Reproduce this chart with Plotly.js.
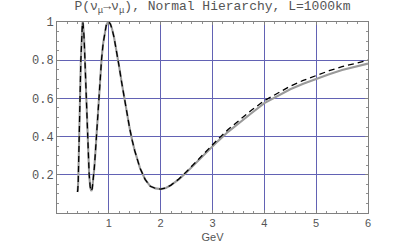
<!DOCTYPE html>
<html>
<head>
<meta charset="utf-8">
<script src="https://cdn.plot.ly/plotly-3.0.1.min.js"></script>
<style>html,body{margin:0;padding:0;background:#fff}#chart{width:400px;height:247px}</style>
</head>
<body>
<div id="chart"></div>
<script>
// Energy (GeV)
const energy = [0.395,0.40,0.41,0.42,0.43,0.44,0.45,0.46,0.47,0.48,0.49,0.50,0.51,0.52,0.53,0.54,0.55,0.56,
  0.58,0.60,0.62,0.64,0.66,0.68,0.70,0.72,0.74,0.76,0.78,0.80,
  0.83,0.86,0.89,0.92,0.95,0.98,1.00,1.03,1.06,
  1.10,1.15,1.20,1.25,1.30,1.35,1.40,1.45,1.50,
  1.60,1.70,1.80,1.90,2.00,2.10,2.20,2.35,2.50,
  2.70,2.90,3.10,3.30,3.50,3.75,4.00,4.25,4.50,4.75,5.00,5.25,5.50,5.75,6.00];
// Gray solid curve
const probSolid = [0.11,0.118,0.167,0.265,0.395,0.537,0.676,0.797,0.893,0.959,0.994,0.998,0.976,0.931,0.868,0.793,0.710,0.622,
  0.454,0.309,0.203,0.138,0.115,0.128,0.172,0.236,0.315,0.403,0.493,0.581,
  0.703,0.806,0.888,0.946,0.982,0.998,1.0,0.989,0.966,
  0.920,0.848,0.765,0.680,0.596,0.517,0.446,0.381,0.326,
  0.236,0.176,0.14,0.129,0.125,0.131,0.146,0.176,0.213,
  0.268,0.322,0.375,0.425,0.470,0.522,0.575,0.613,0.648,0.677,0.704,0.727,0.749,0.766,0.782];
// Black dashed curve
const probDashed = [0.11,0.118,0.167,0.265,0.395,0.537,0.676,0.797,0.893,0.959,0.994,0.998,0.976,0.931,0.868,0.793,0.710,0.622,
  0.454,0.309,0.203,0.138,0.115,0.128,0.172,0.236,0.315,0.403,0.493,0.581,
  0.703,0.806,0.888,0.946,0.982,0.998,1.0,0.989,0.966,
  0.920,0.848,0.765,0.680,0.596,0.517,0.446,0.381,0.326,
  0.236,0.176,0.14,0.129,0.125,0.131,0.146,0.178,0.217,
  0.274,0.330,0.385,0.437,0.484,0.538,0.588,0.628,0.664,0.694,0.721,0.745,0.766,0.784,0.800];
const xTicks = [1,2,3,4,5,6];
const yTicks = [0.2,0.4,0.6,0.8,1];
const yTickText = ["0.2","0.4","0.6","0.8","1"];

const traces = [
  {x: energy, y: probSolid, mode: 'lines', line: {color: '#9a9a9a', width: 2.1}, hoverinfo: 'skip'},
  {x: energy, y: probDashed, mode: 'lines', line: {color: '#000', width: 1.3, dash: '6px,4px'}, hoverinfo: 'skip'}
];
const grid = '#6262b4';
const layout = {
  width: 400, height: 247,
  margin: {l: 57, r: 32, t: 22, b: 34},
  paper_bgcolor: '#fff', plot_bgcolor: '#fff',
  showlegend: false,
  title: {
    text: 'P(ν<sub>μ</sub>→ν<sub>μ</sub>), Normal Hierarchy, L=1000km',
    font: {family: 'Liberation Mono', size: 13, color: '#555'},
    xref: 'paper', x: 0.5, xanchor: 'center',
    yref: 'container', y: 0.995, yanchor: 'top'
  },
  xaxis: {
    range: [0, 6], tickvals: xTicks, ticktext: xTicks.map(String),
    showgrid: true, gridcolor: grid, gridwidth: 1, zeroline: false,
    showline: true, linecolor: '#808080', linewidth: 1, mirror: 'ticks',
    ticks: 'inside', ticklen: 3, tickcolor: '#808080',
    minor: {dtick: 0.2, ticks: 'inside', ticklen: 2, tickcolor: '#909090', showgrid: false},
    tickfont: {family: 'Liberation Sans', size: 11, color: '#555'},
    title: {text: 'GeV', font: {family: 'Liberation Sans', size: 11, color: '#555'}, standoff: 5}
  },
  yaxis: {
    range: [0, 1], tickvals: yTicks, ticktext: yTickText,
    showgrid: true, gridcolor: grid, gridwidth: 1, zeroline: false,
    showline: true, linecolor: '#808080', linewidth: 1, mirror: 'ticks',
    ticks: 'inside', ticklen: 3, tickcolor: '#808080',
    minor: {dtick: 0.05, ticks: 'inside', ticklen: 2, tickcolor: '#909090', showgrid: false},
    tickfont: {family: 'Liberation Mono', size: 12, color: '#555'}
  }
};
Plotly.newPlot('chart', traces, layout, {staticPlot: true, displayModeBar: false});
</script>
</body>
</html>
